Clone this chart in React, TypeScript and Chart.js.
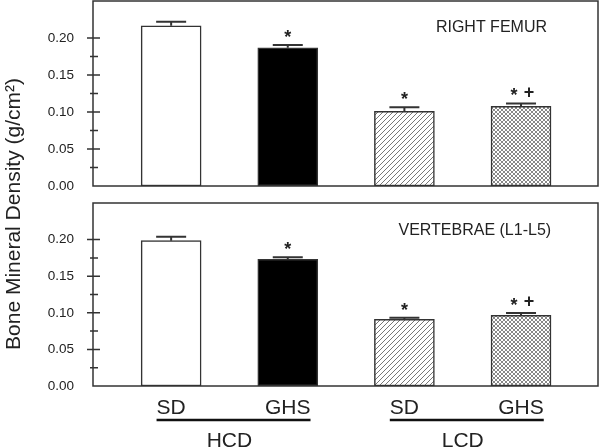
import React, { useEffect, useRef } from "react";
import { Chart, registerables } from "chart.js";

Chart.register(...registerables);

// ---------- data ----------
const groups = ["SD", "GHS", "SD", "GHS"];
const diets = ["HCD", "LCD"];
const femurValues = [0.2166, 0.1867, 0.1008, 0.1076];
const femurErrors = [0.0055, 0.004, 0.0055, 0.004];
const vertebraeValues = [0.1985, 0.173, 0.0911, 0.0966];
const vertebraeErrors = [0.0055, 0.003, 0.0022, 0.003];
const marks = ["", "*", "*", "*+"];
const yTicks = [0, 0.05, 0.1, 0.15, 0.2];
const minorTicks = [0.025, 0.075, 0.125, 0.175];
const panelTitles = ["RIGHT FEMUR", "VERTEBRAE (L1-L5)"];
const yTitle = "Bone Mineral Density (g/cm²)";

const FONT = '"Liberation Sans", Arial, sans-serif';
const TEXT = "#222";
const LINE = "#333";

function makeFills(): (string | CanvasPattern)[] {
  const hatch = document.createElement("canvas");
  hatch.width = 5;
  hatch.height = 5;
  const h = hatch.getContext("2d")!;
  h.fillStyle = "#fff";
  h.fillRect(0, 0, 5, 5);
  h.strokeStyle = "#777";
  h.lineWidth = 1;
  h.beginPath();
  h.moveTo(-1, 6); h.lineTo(6, -1);
  h.moveTo(-2, 2); h.lineTo(2, -2);
  h.moveTo(3, 7); h.lineTo(7, 3);
  h.stroke();

  const cross = document.createElement("canvas");
  cross.width = 4;
  cross.height = 4;
  const c = cross.getContext("2d")!;
  c.fillStyle = "#fff";
  c.fillRect(0, 0, 4, 4);
  c.strokeStyle = "#888";
  c.lineWidth = 1;
  c.beginPath();
  c.moveTo(-1, 5); c.lineTo(5, -1);
  c.moveTo(-1, -1); c.lineTo(5, 5);
  c.stroke();

  const ctx = document.createElement("canvas").getContext("2d")!;
  return ["#ffffff", "#000000", ctx.createPattern(hatch, "repeat")!, ctx.createPattern(cross, "repeat")!];
}

const panelPlugin = {
  id: "panel",
  afterDatasetsDraw(chart: any, _args: any, opts: any) {
    const { ctx, chartArea: a, scales } = chart;
    const y = scales.y;
    ctx.save();
    // frame
    ctx.strokeStyle = LINE;
    ctx.lineWidth = 1.5;
    ctx.strokeRect(a.left, a.top, a.right - a.left, a.bottom - a.top);
    // y tick marks crossing the axis
    ctx.beginPath();
    yTicks.forEach((v) => {
      if (v === 0) return;
      const py = y.getPixelForValue(v);
      ctx.moveTo(a.left - 6, py);
      ctx.lineTo(a.left + 7, py);
    });
    minorTicks.forEach((v) => {
      const py = y.getPixelForValue(v);
      ctx.moveTo(a.left - 3, py);
      ctx.lineTo(a.left + 5, py);
    });
    ctx.stroke();

    // error bars and significance marks
    const meta = chart.getDatasetMeta(0);
    meta.data.forEach((bar: any, i: number) => {
      const top = y.getPixelForValue(opts.values[i] + opts.errors[i]);
      const half = bar.width / 4;
      ctx.strokeStyle = LINE;
      ctx.lineWidth = 2;
      ctx.beginPath();
      ctx.moveTo(bar.x, bar.y);
      ctx.lineTo(bar.x, top);
      ctx.moveTo(bar.x - half, top);
      ctx.lineTo(bar.x + half, top);
      ctx.stroke();

      const m = marks[i];
      const cy = top - 12;
      ctx.fillStyle = TEXT;
      ctx.textAlign = "center";
      ctx.textBaseline = "alphabetic";
      ctx.font = `bold 18px ${FONT}`;
      if (m.includes("*")) {
        const sx = m.includes("+") ? bar.x - 7 : bar.x;
        ctx.fillText("*", sx, cy + 0.56 * 18);
      }
      if (m.includes("+")) {
        ctx.fillText("+", bar.x + 8, cy + 0.35 * 18);
      }
    });

    // panel title
    ctx.font = `16px ${FONT}`;
    ctx.fillStyle = TEXT;
    ctx.textAlign = "center";
    ctx.textBaseline = "middle";
    ctx.fillText(opts.title, a.left + opts.titleX * (a.right - a.left), a.top + opts.titleDy);

    // y-axis title
    if (opts.showYTitle) {
      ctx.save();
      ctx.translate(20, 214);
      ctx.rotate(-Math.PI / 2);
      ctx.font = `21px ${FONT}`;
      ctx.textAlign = "center";
      ctx.textBaseline = "alphabetic";
      ctx.fillText(yTitle, 0, 0);
      ctx.restore();
    }

    // group underlines and labels
    if (opts.showGroups) {
      const x = scales.x;
      ctx.font = `21px ${FONT}`;
      diets.forEach((d, g) => {
        const i0 = 2 * g;
        const i1 = 2 * g + 1;
        const p0 = x.getPixelForValue(i0);
        const p1 = x.getPixelForValue(i1);
        const l = p0 - ctx.measureText(groups[i0]).width / 2;
        const r = p1 + ctx.measureText(groups[i1]).width / 2;
        ctx.strokeStyle = "#111";
        ctx.lineWidth = 2.5;
        ctx.beginPath();
        ctx.moveTo(l, a.bottom + 34);
        ctx.lineTo(r, a.bottom + 34);
        ctx.stroke();
        ctx.fillStyle = TEXT;
        ctx.textAlign = "center";
        ctx.textBaseline = "alphabetic";
        ctx.fillText(d, (p0 + p1) / 2, a.bottom + 61);
      });
    }
    ctx.restore();
  },
};

function makeConfig(values: number[], errors: number[], fills: any[], panel: number): any {
  const isBottom = panel === 1;
  return {
    type: "bar",
    data: {
      datasets: [
        {
          data: values.map((v, i) => ({ x: i, y: v })),
          backgroundColor: fills,
          borderColor: LINE,
          borderWidth: 1.5,
          borderSkipped: false,
          barThickness: 60,
        },
      ],
    },
    options: {
      responsive: false,
      animation: false,
      events: [],
      layout: {
        autoPadding: false,
        padding: isBottom
          ? { left: 0, right: 2, top: 203, bottom: 0 }
          : { left: 0, right: 2, top: 1, bottom: 262 },
      },
      plugins: {
        legend: { display: false },
        tooltip: { enabled: false },
        panel: {
          values,
          errors,
          title: panelTitles[panel],
          titleX: isBottom ? 0.756 : 0.789,
          titleDy: isBottom ? 27.5 : 26.5,
          showYTitle: !isBottom,
          showGroups: isBottom,
        },
      },
      scales: {
        x: {
          type: "linear",
          bounds: "data",
          offset: false,
          min: -0.67,
          max: 3.66,
          display: isBottom,
          afterBuildTicks: (s: any) => {
            s.ticks = groups.map((_, i) => ({ value: i }));
          },
          afterFit: (s: any) => {
            s.height = isBottom ? 62 : 0;
            s.paddingLeft = 0;
            s.paddingRight = 0;
            s.paddingTop = 0;
            s.paddingBottom = 0;
          },
          grid: { display: false },
          border: { display: false },
          ticks: {
            padding: 2,
            autoSkip: false,
            maxRotation: 0,
            color: TEXT,
            font: { family: FONT, size: 21 },
            callback: (v: any) => groups[v] ?? "",
          },
        },
        y: {
          min: 0,
          max: 0.25,
          afterBuildTicks: (s: any) => {
            s.ticks = yTicks.map((v) => ({ value: v }));
          },
          afterFit: (s: any) => {
            s.width = 93;
            s.paddingLeft = 0;
            s.paddingRight = 0;
            s.paddingTop = 0;
            s.paddingBottom = 0;
          },
          grid: { display: false },
          border: { display: false },
          ticks: {
            padding: 11,
            color: TEXT,
            font: { family: FONT, size: 13.5 },
            callback: (v: any) => Number(v).toFixed(2),
          },
        },
      },
    },
    plugins: [panelPlugin],
  };
}

export default function App() {
  const topRef = useRef<HTMLCanvasElement>(null);
  const botRef = useRef<HTMLCanvasElement>(null);

  useEffect(() => {
    const fills = makeFills();
    const c1 = new Chart(topRef.current!, makeConfig(femurValues, femurErrors, fills, 0));
    const c2 = new Chart(botRef.current!, makeConfig(vertebraeValues, vertebraeErrors, fills, 1));
    return () => {
      c1.destroy();
      c2.destroy();
    };
  }, []);

  const style: React.CSSProperties = { position: "absolute", left: 0, top: 0 };
  return (
    <div style={{ position: "absolute", left: 0, top: 0, width: 600, height: 448, background: "#fff" }}>
      <canvas ref={topRef} width={600} height={448} style={style} />
      <canvas ref={botRef} width={600} height={448} style={style} />
    </div>
  );
}
